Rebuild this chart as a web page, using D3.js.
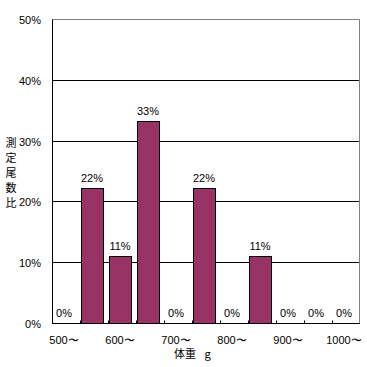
<!DOCTYPE html>
<html><head><meta charset="utf-8">
<script src="https://cdn.jsdelivr.net/npm/d3@7"></script>
<style>
body{margin:0;background:#fff;}
svg{display:block;}
text{font-family:"Liberation Sans Narrow","Liberation Sans",Arial,sans-serif;font-size:11px;fill:#000;}
.jp{font-family:"Noto Sans CJK JP",sans-serif;font-size:11px;}
</style>
</head><body>
<script>
const categories = ["500〜","550〜","600〜","650〜","700〜","750〜","800〜","850〜","900〜","950〜","1000〜"];
const values = [0, 22.2, 11.1, 33.3, 0, 22.2, 0, 11.1, 0, 0, 0];
const valueLabels = ["0%","22%","11%","33%","0%","22%","0%","11%","0%","0%","0%"];
const shownTickLabels = ["500〜","600〜","700〜","800〜","900〜","1000〜"];
const yTicks = [0,10,20,30,40,50];
const yTitle = ["測","定","尾","数","比"];
const xTitle = "体重 g";

(function(){
const W = 367, H = 367;
const mLeft = 52, mRight = 360, mTop = 19, mBottom = 323;

const svg = d3.select("body").append("svg").attr("width", W).attr("height", H);

const xCell = d3.scaleBand().domain(categories).range([mLeft, mRight]);
const y = d3.scaleLinear().domain([0, 50]).range([mBottom, mTop]);
const py = v => Math.round(y(v)) + 0.5;
const barW = xCell.bandwidth() - 6;
const cx = d => Math.round(xCell(d)) + 1 + barW / 2;

svg.append("g").selectAll("line").data(yTicks.filter(t => t > 0 && t < 50)).join("line")
  .attr("x1", mLeft).attr("x2", mRight)
  .attr("y1", d => py(d)).attr("y2", d => py(d))
  .attr("stroke", "#000").attr("stroke-width", 1);

svg.append("path")
  .attr("d", `M${mLeft},${py(50)}H${mRight - 0.5}V${py(0)}`)
  .attr("fill", "none").attr("stroke", "#808080").attr("stroke-width", 1);

svg.append("g").selectAll("rect").data(categories).join("rect")
  .attr("x", d => Math.round(xCell(d)) + 1.5)
  .attr("width", barW)
  .attr("y", (d, i) => py(values[i]))
  .attr("height", (d, i) => py(0) - py(values[i]))
  .attr("fill", "#993366")
  .attr("stroke", "#000").attr("stroke-width", 1)
  .attr("display", (d, i) => values[i] > 0 ? null : "none");

svg.append("line").attr("x1", mLeft + 0.5).attr("x2", mLeft + 0.5).attr("y1", py(50)).attr("y2", py(0)).attr("stroke", "#000");
svg.append("line").attr("x1", mLeft).attr("x2", mRight).attr("y1", py(0)).attr("y2", py(0)).attr("stroke", "#000");

svg.append("g").selectAll("line").data(categories.slice(1)).join("line")
  .attr("x1", d => Math.round(xCell(d)) + 0.5).attr("x2", d => Math.round(xCell(d)) + 0.5)
  .attr("y1", py(0)).attr("y2", py(0) - 3)
  .attr("stroke", "#000");

svg.append("g").selectAll("text").data(yTicks).join("text")
  .attr("x", 41).attr("y", d => py(d) + 4)
  .attr("text-anchor", "end")
  .text(d => d + "%");

svg.append("g").selectAll("text").data(categories).join("text")
  .attr("x", d => cx(d))
  .attr("y", (d, i) => py(values[i]) - 7)
  .attr("text-anchor", "middle")
  .text((d, i) => valueLabels[i]);

svg.append("g").selectAll("text").data(shownTickLabels).join("text")
  .attr("x", d => cx(d))
  .attr("y", 344)
  .attr("text-anchor", "middle")
  .text(d => d);

svg.append("g").selectAll("text").data(yTitle).join("text")
  .attr("class", "jp")
  .attr("x", 11).attr("y", (d, i) => 147 + i * 15)
  .attr("text-anchor", "middle")
  .text(d => d);

svg.append("text").attr("class", "jp")
  .attr("x", 174).attr("y", 358)
  .style("word-spacing", "6px")
  .text(xTitle);
})();
</script>
</body></html>
